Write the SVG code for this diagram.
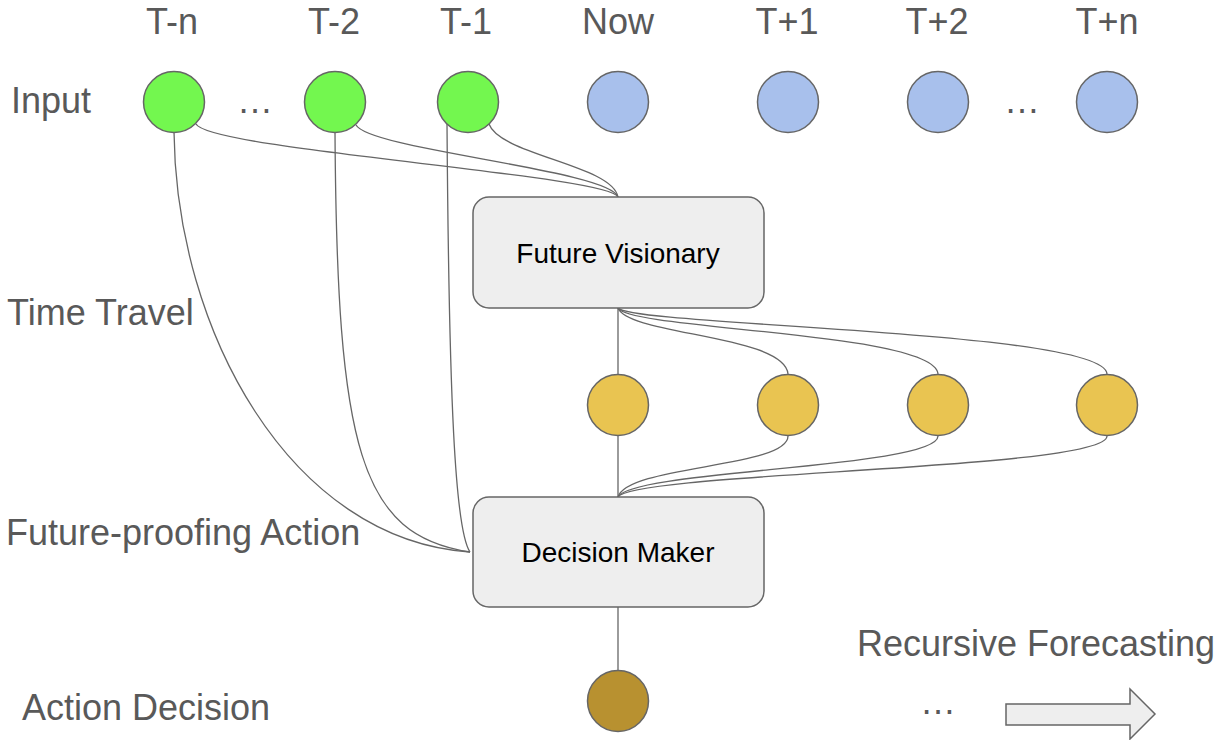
<svg xmlns="http://www.w3.org/2000/svg" width="1228" height="740" viewBox="0 0 1228 740">
<style>
.lbl{font-family:"Liberation Sans",Arial,sans-serif;font-size:36px;fill:#595959}
.top{text-anchor:middle}
.box{fill:#eeeeee;stroke:#666666;stroke-width:1.5}
.btxt{font-family:"Liberation Sans",Arial,sans-serif;font-size:28px;fill:#000000;text-anchor:middle}
.node{stroke:#666666;stroke-width:1.5}
.green{fill:#73f74f}
.blue{fill:#a8c0ec}
.yellow{fill:#e9c451}
.brown{fill:#b89130}
.conn path{fill:none;stroke:#666666;stroke-width:1.3}
</style>
<rect width="1228" height="740" fill="#ffffff"/>
<g id="labels">
<text class="lbl top" x="172" y="34">T-n</text>
<text class="lbl top" x="334" y="34">T-2</text>
<text class="lbl top" x="466" y="34">T-1</text>
<text class="lbl top" x="618" y="34">Now</text>
<text class="lbl top" x="787" y="34">T+1</text>
<text class="lbl top" x="937" y="34">T+2</text>
<text class="lbl top" x="1107" y="34">T+n</text>
<text class="lbl" x="11" y="113">Input</text>
<text class="lbl" x="7" y="325">Time Travel</text>
<text class="lbl" x="6" y="545">Future-proofing Action</text>
<text class="lbl" x="22" y="720">Action Decision</text>
<text class="lbl" x="857" y="656">Recursive Forecasting</text>
<text class="lbl" x="237" y="113">…</text>
<text class="lbl" x="1004" y="113">…</text>
<text class="lbl" x="920" y="714">…</text>
</g>
<g id="connectors" class="conn">
<path d="M196,124 C210,150 610,175 618,197"/>
<path d="M356,125 C370,150 610,170 618,197"/>
<path d="M489,124 C500,155 612,165 618,197"/>
<path d="M174,132 C176,330 290,540 470,552"/>
<path d="M335,132 C337,450 360,535 470,552"/>
<path d="M447,124 C449,400 455,530 470,552"/>
<path d="M618,308 L618,374"/>
<path d="M618,436 L618,497"/>
<path d="M618,308 C628,335 785,335 788,374"/>
<path d="M618,308 C630,330 935,332 938,374"/>
<path d="M618,308 C632,326 1104,330 1107,374"/>
<path d="M788,436 C788,468 628,465 618,497"/>
<path d="M938,436 C938,468 630,470 618,497"/>
<path d="M1107,436 C1107,470 632,472 618,497"/>
<path d="M618,607 L618,670"/>
</g>
<g id="in-tn"><circle class="node green" cx="174" cy="102" r="30.5"/></g>
<g id="in-t2"><circle class="node green" cx="335" cy="102" r="30.5"/></g>
<g id="in-t1"><circle class="node green" cx="468" cy="102" r="30.5"/></g>
<g id="in-now"><circle class="node blue" cx="618" cy="102" r="30.5"/></g>
<g id="in-tp1"><circle class="node blue" cx="788" cy="102" r="30.5"/></g>
<g id="in-tp2"><circle class="node blue" cx="938" cy="102" r="30.5"/></g>
<g id="in-tpn"><circle class="node blue" cx="1107" cy="102" r="30.5"/></g>
<g id="future-visionary">
<rect class="box" x="473" y="197" width="291" height="111" rx="16"/>
<text class="btxt" x="618" y="263">Future Visionary</text>
</g>
<g id="f1"><circle class="node yellow" cx="618" cy="405" r="30.5"/></g>
<g id="f2"><circle class="node yellow" cx="788" cy="405" r="30.5"/></g>
<g id="f3"><circle class="node yellow" cx="938" cy="405" r="30.5"/></g>
<g id="f4"><circle class="node yellow" cx="1107" cy="405" r="30.5"/></g>
<g id="decision-maker">
<rect class="box" x="473" y="497" width="291" height="110" rx="16"/>
<text class="btxt" x="618" y="562">Decision Maker</text>
</g>
<g id="action"><circle class="node brown" cx="618" cy="701" r="30.5"/></g>
<g id="arrow"><polygon class="box" points="1006,704 1130,704 1130,689 1155,714 1130,739 1130,725 1006,725"/></g>
</svg>
